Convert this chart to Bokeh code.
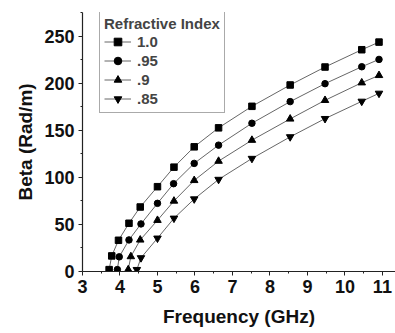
from bokeh.plotting import figure
from bokeh.models import Range1d, Legend, LegendItem, FixedTicker
from bokeh.embed import file_html
from bokeh.resources import INLINE

# Refractive index 1.0
f_10 = [3.71, 3.78, 3.96, 4.24, 4.54, 5.0, 5.44, 5.98, 6.63, 7.52, 8.54, 9.47, 10.45, 10.91]
b_10 = [2, 16.6, 33.2, 51.3, 68.6, 90.2, 111, 132.6, 152.8, 175.7, 198.4, 217.5, 235.9, 244]
# Refractive index .95
f_95 = [3.93, 3.98, 4.24, 4.56, 5.0, 5.43, 5.98, 6.63, 7.52, 8.54, 9.47, 10.45, 10.91]
b_95 = [2, 15.6, 33.6, 50.6, 72.5, 93.4, 115, 134.4, 157.7, 180.7, 199.8, 217.8, 225.6]
# Refractive index .9
f_90 = [4.22, 4.29, 4.54, 5.0, 5.44, 5.98, 6.63, 7.52, 8.54, 9.47, 10.45, 10.91]
b_90 = [2, 15.9, 33.6, 54.5, 75, 96.9, 117.4, 139.7, 162.3, 182.1, 200.8, 208.6]
# Refractive index .85
f_85 = [4.45, 4.56, 5.0, 5.44, 5.98, 6.63, 7.52, 8.54, 9.47, 10.45, 10.91]
b_85 = [2, 14.5, 35.4, 56.6, 77.1, 97.9, 120.2, 143.2, 162.6, 181, 189.5]

labels = ["1.0", ".95", ".9", ".85"]
markers = ["square", "circle", "triangle", "inverted_triangle"]
x_ticks = [3, 4, 5, 6, 7, 8, 9, 10, 11]
y_ticks = [0, 50, 100, 150, 200, 250]

FONT = "Liberation Sans"

p = figure(width=395, height=333, output_backend="svg", toolbar_location=None,
           x_range=Range1d(3, 11.35), y_range=Range1d(0, 275.5),
           min_border_left=82, min_border_right=0, min_border_top=12, min_border_bottom=62)
p.outline_line_color = None
p.grid.visible = False
p.background_fill_color = "white"
p.border_fill_color = "white"

p.xaxis.ticker = FixedTicker(ticks=x_ticks, minor_ticks=[3.5 + i for i in range(8)])
p.yaxis.ticker = FixedTicker(ticks=y_ticks, minor_ticks=[25 + 50 * i for i in range(6)])
for ax in (p.xaxis[0], p.yaxis[0]):
    ax.axis_line_color = "#222222"
    ax.axis_line_width = 1.2
    ax.major_tick_line_color = "#222222"
    ax.minor_tick_line_color = "#222222"
    ax.major_tick_in = 0
    ax.major_tick_out = 4
    ax.minor_tick_in = 0
    ax.minor_tick_out = 2
    ax.major_label_text_font = FONT
    ax.major_label_text_font_style = "bold"
    ax.major_label_text_font_size = "18px"
    ax.major_label_text_color = "#111111"
    ax.axis_label_text_font = FONT
    ax.axis_label_text_font_style = "bold"
    ax.axis_label_text_font_size = "19px"
    ax.axis_label_text_color = "#111111"

p.xaxis.axis_label = "Frequency (GHz)"
p.yaxis.axis_label = "Beta (Rad/m)"
p.xaxis.major_label_standoff = 4
p.yaxis.major_label_standoff = 4
p.xaxis.axis_label_standoff = 10
p.yaxis.axis_label_standoff = 5

series = [(f_10, b_10), (f_95, b_95), (f_90, b_90), (f_85, b_85)]
sizes = [6.5, 6.5, 7.5, 7.5]
items = []
for (fx, by), lab, mk, sz in zip(series, labels, markers, sizes):
    ln = p.line(fx, by, line_color="#555555", line_width=0.9)
    sc = p.scatter(fx, by, marker=mk, size=sz, fill_color="black", line_color="black")
    items.append(LegendItem(label=lab, renderers=[ln, sc]))

legend = Legend(items=items, location=(17, 158), title="Refractive Index",
                title_text_font=FONT, title_text_font_style="bold", title_text_font_size="15px",
                label_text_font=FONT, label_text_font_style="bold", label_text_font_size="15px",
                label_height=19, glyph_height=19, glyph_width=27, label_standoff=6,
                spacing=0, padding=4, margin=0, title_standoff=0,
                border_line_color="#555555", border_line_width=1,
                background_fill_color="white", background_fill_alpha=1)
p.add_layout(legend, "center")

open("out.html", "w").write(file_html(p, INLINE))
